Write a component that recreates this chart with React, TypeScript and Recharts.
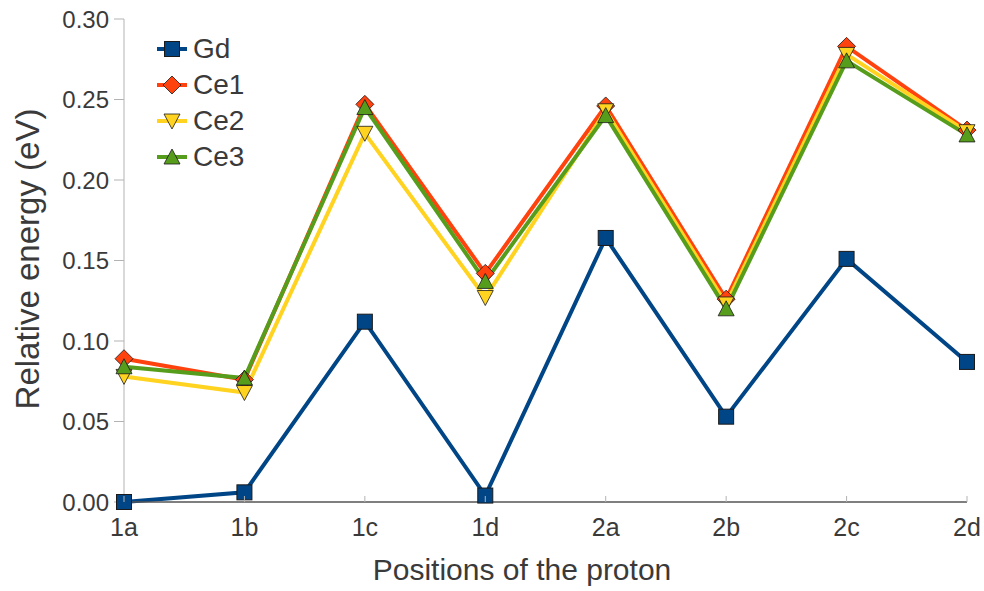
import { LineChart, Line, XAxis, YAxis, Legend } from 'recharts';

const positions = ['1a', '1b', '1c', '1d', '2a', '2b', '2c', '2d'];
const gd = [0.0, 0.006, 0.112, 0.004, 0.164, 0.053, 0.151, 0.087];
const ce1 = [0.089, 0.076, 0.247, 0.142, 0.246, 0.126, 0.283, 0.231];
const ce2 = [0.078, 0.068, 0.229, 0.127, 0.243, 0.123, 0.278, 0.23];
const ce3 = [0.084, 0.077, 0.245, 0.137, 0.24, 0.12, 0.274, 0.228];
const yTicks = [0, 0.05, 0.1, 0.15, 0.2, 0.25, 0.3];

const data = positions.map((pos, i) => ({ pos, Gd: gd[i], Ce1: ce1[i], Ce2: ce2[i], Ce3: ce3[i] }));

const FONT = '"Liberation Sans", Arial, sans-serif';
const TEXT = '#3a3a3a';
const OUTLINE = '#1a1a1a';

const colors: Record<string, string> = {
  Gd: '#004586',
  Ce1: '#ff420e',
  Ce2: '#ffd320',
  Ce3: '#579d1c',
};

const Marker = ({ name, cx, cy }: { name: string; cx: number; cy: number }) => {
  const fill = colors[name];
  if (name === 'Gd') {
    return <rect x={cx - 7.5} y={cy - 7.5} width={15} height={15} fill={fill} stroke={OUTLINE} strokeWidth={1} />;
  }
  if (name === 'Ce1') {
    return (
      <polygon
        points={`${cx},${cy - 9} ${cx + 9},${cy} ${cx},${cy + 9} ${cx - 9},${cy}`}
        fill={fill}
        stroke={OUTLINE}
        strokeWidth={0.8}
      />
    );
  }
  if (name === 'Ce2') {
    return (
      <polygon
        points={`${cx - 8},${cy - 7} ${cx + 8},${cy - 7} ${cx},${cy + 8}`}
        fill={fill}
        stroke={OUTLINE}
        strokeWidth={0.8}
      />
    );
  }
  return (
    <polygon
      points={`${cx},${cy - 8} ${cx + 8},${cy + 7} ${cx - 8},${cy + 7}`}
      fill={fill}
      stroke={OUTLINE}
      strokeWidth={0.8}
    />
  );
};

const dotFor = (name: string) => (props: any) => {
  if (props.cx == null || props.cy == null) return <g key={`${name}-${props.index}`} />;
  return (
    <g key={`${name}-${props.index}`}>
      <Marker name={name} cx={props.cx} cy={props.cy} />
    </g>
  );
};

const XTick = (props: any) => {
  const { x, y, payload } = props;
  return (
    <g>
      <line x1={x} y1={y} x2={x} y2={y - 6} stroke="#b3b3b3" strokeWidth={1} />
      <text x={x} y={y + 34} textAnchor="middle" fill={TEXT} fontSize={25} fontFamily={FONT}>
        {payload.value}
      </text>
    </g>
  );
};

const renderLegend = () => (
  <div style={{ fontFamily: FONT, fontSize: 28, color: TEXT, lineHeight: '36px' }}>
    {['Gd', 'Ce1', 'Ce2', 'Ce3'].map((name) => (
      <div key={name} style={{ display: 'flex', alignItems: 'center', height: 36 }}>
        <svg width={36} height={24} style={{ marginRight: 2 }}>
          <line x1={2} y1={12} x2={32} y2={12} stroke={colors[name]} strokeWidth={4} />
          <Marker name={name} cx={17} cy={12} />
        </svg>
        <span>{name}</span>
      </div>
    ))}
  </div>
);

const App = () => {
  return (
    <div style={{ position: 'absolute', left: 0, top: 0, background: '#fff' }}>
      <LineChart width={984} height={591} data={data} margin={{ top: 19, right: 17, bottom: 0, left: 0 }}>
        <XAxis
          dataKey="pos"
          height={89}
          tickLine={false}
          tickSize={0}
          tickMargin={0}
          interval={0}
          tick={<XTick />}
          axisLine={{ stroke: '#555', strokeWidth: 1.5 }}
          label={() => (
            <text x={522} y={580} textAnchor="middle" fill={TEXT} fontSize={30} fontFamily={FONT}>
              Positions of the proton
            </text>
          )}
        />
        <XAxis xAxisId="top" dataKey="pos" orientation="top" height={0} tick={false} tickLine={false} axisLine={{ stroke: '#555', strokeWidth: 1.5 }} />
        <YAxis
          width={124}
          domain={[0, 0.3]}
          ticks={yTicks}
          tickFormatter={(v: number) => v.toFixed(2)}
          tickSize={10}
          tickMargin={5}
          tick={{ fill: TEXT, fontSize: 24, fontFamily: FONT }}
          tickLine={{ stroke: '#b3b3b3' }}
          axisLine={{ stroke: '#b3b3b3' }}
          label={() => (
            <text
              x={27}
              y={259}
              transform="rotate(-90, 27, 259)"
              textAnchor="middle"
              dominantBaseline="central"
              fill={TEXT}
              fontSize={33}
              fontFamily={FONT}
            >
              Relative energy (eV)
            </text>
          )}
        />
        <YAxis yAxisId="right" orientation="right" width={0} domain={[0, 0.3]} tick={false} tickLine={false} axisLine={{ stroke: '#b3b3b3' }} />
        <Legend
          content={renderLegend}
          layout="vertical"
          verticalAlign="middle"
          align="center"
          wrapperStyle={{ position: 'absolute', left: 155, top: 31, width: 150 }}
        />
        {(['Gd', 'Ce1', 'Ce2', 'Ce3'] as const).map((name) => (
          <Line
            key={name}
            dataKey={name}
            stroke={colors[name]}
            strokeWidth={4}
            dot={dotFor(name)}
            activeDot={false}
            isAnimationActive={false}
          />
        ))}
      </LineChart>
    </div>
  );
};

export default App;
